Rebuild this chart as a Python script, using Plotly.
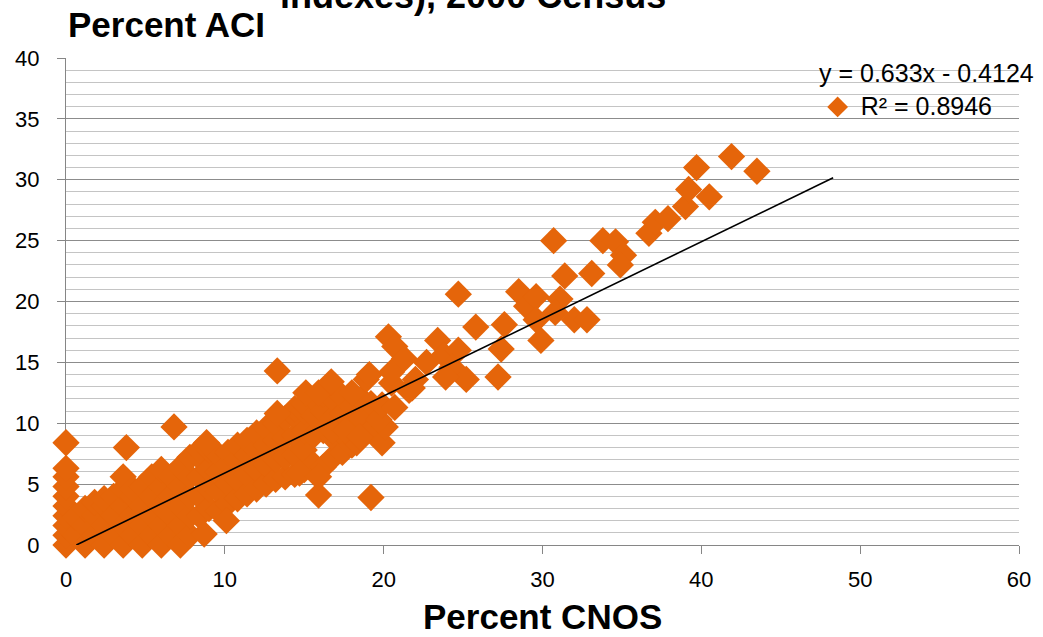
import plotly.graph_objects as go

# ---------------- data ----------------
# Percent CNOS (x) and Percent ACI (y) for the census units
cnos_pct = [
    # dense band near origin
    0.0, 0.0, 0.0, 0.0, 0.0, 0.0, 0.0, 0.0, 0.0, 0.0,
    0.6, 0.6,
    1.2, 1.2, 1.2,
    1.8, 1.8, 1.8,
    2.4, 2.4, 2.4, 2.4,
    3.0, 3.0, 3.0,
    3.6, 3.6, 3.6, 3.6, 3.6,
    4.2, 4.2, 4.2, 4.2,
    4.8, 4.8, 4.8, 4.8,
    5.4, 5.4, 5.4, 5.4,
    6.0, 6.0, 6.0, 6.0, 6.0,
    6.6, 6.6, 6.6, 6.6,
    7.2, 7.2, 7.2, 7.2, 7.2,
    7.8, 7.8, 7.8, 7.8, 7.8,
    8.4, 8.4, 8.4, 8.4, 8.4,
    9.0, 9.0, 9.0, 9.0,
    9.6, 9.6, 9.6, 9.6,
    10.2, 10.2, 10.2, 10.2,
    10.8, 10.8, 10.8, 10.8,
    11.4, 11.4, 11.4, 11.4,
    12.0, 12.0, 12.0, 12.0,
    12.6, 12.6, 12.6, 12.6,
    13.2, 13.2, 13.2, 13.2,
    13.8, 13.8, 13.8, 13.8,
    14.4, 14.4, 14.4, 14.4, 14.4,
    15.0, 15.0, 15.0, 15.0, 15.0,
    15.6, 15.6, 15.6, 15.6,
    16.2, 16.2, 16.2, 16.2,
    16.8, 16.8, 16.8, 16.8,
    17.4, 17.4, 17.4, 17.4,
    18.0, 18.0, 18.0,
    18.6, 18.6, 18.6,
    19.2, 19.2,
    # outliers / scattered units
    3.8, 6.8, 8.85, 8.7, 10.1, 13.3, 13.3, 15.9, 19.2, 14.7, 15.9,
    18.3, 19.9, 16.8, 17.6, 18.5, 20.1, 19.7, 19.9, 20.7,
    15.1, 15.9, 16.7, 18.0, 18.9, 19.1, 20.5, 20.5, 21.6, 22.0, 21.8,
    20.3, 20.7, 21.3, 22.7, 23.4, 23.8, 24.7, 24.3, 25.2, 23.9,
    24.7, 25.8, 27.6, 27.4, 27.2, 28.5, 29.0, 29.6, 29.6, 29.9,
    30.7, 31.1, 30.8, 31.4, 32.0, 32.8, 33.1, 33.8, 34.6, 35.1, 34.9,
    36.7, 37.1, 37.9, 39.0, 39.2, 40.5, 39.7, 41.9, 43.5,
]
aci_pct = [
    0.0, 0.8, 1.6, 2.4, 3.2, 4.0, 4.8, 5.6, 6.3, 8.4,
    0.8, 2.3,
    0.0, 1.6, 3.0,
    0.8, 2.4, 3.5,
    0.0, 1.6, 3.2, 3.8,
    0.8, 2.4, 4.0,
    0.0, 1.6, 3.2, 4.6, 5.6,
    0.8, 2.4, 4.0, 4.6,
    0.0, 1.6, 3.2, 4.8,
    0.8, 2.4, 4.0, 5.6,
    0.0, 1.6, 3.2, 4.8, 6.2,
    0.8, 2.4, 4.0, 5.6,
    0.0, 1.6, 3.2, 4.8, 6.4,
    0.8, 2.4, 4.0, 5.6, 7.2,
    2.4, 4.0, 5.6, 7.2, 7.8,
    3.0, 4.6, 6.2, 7.8,
    2.8, 4.4, 6.0, 7.4,
    3.4, 5.0, 6.6, 7.6,
    3.8, 5.4, 7.0, 8.2,
    4.2, 5.8, 7.4, 8.6,
    4.6, 6.2, 7.8, 9.2,
    5.0, 6.6, 8.2, 9.6,
    5.4, 7.0, 8.6, 10.0,
    5.6, 7.2, 8.8, 10.4,
    5.8, 7.4, 9.0, 10.6, 11.2,
    6.2, 7.8, 9.4, 11.0, 11.6,
    6.6, 9.0, 10.6, 12.0,
    6.4, 9.4, 11.0, 12.4,
    7.2, 8.8, 10.4, 12.0,
    7.6, 9.2, 10.8, 12.2,
    8.2, 9.8, 11.4,
    9.0, 10.4, 12.0,
    9.4, 11.6,
    8.0, 9.7, 8.4, 0.9, 2.0, 10.8, 14.3, 4.1, 3.9, 5.9, 5.6,
    8.4, 8.4, 9.4, 9.4, 8.9, 9.7, 10.3, 11.5, 11.3,
    12.5, 12.5, 13.4, 12.5, 13.6, 14.0, 13.3, 14.2, 12.7, 13.6, 12.9,
    17.1, 16.3, 15.3, 15.0, 16.8, 15.6, 16.0, 14.6, 13.6, 13.8,
    20.6, 17.9, 18.1, 16.1, 13.8, 20.8, 19.6, 20.4, 18.5, 16.8,
    25.0, 20.2, 19.1, 22.1, 18.5, 18.5, 22.3, 25.0, 24.9, 23.8, 23.0,
    25.6, 26.5, 26.8, 27.8, 29.2, 28.6, 31.0, 31.9, 30.7,
]

# Linear trendline reported in the chart
trend_slope = 0.633
trend_intercept = -0.4124
trend_r2 = 0.8946
trend_x = [0.65, 48.3]
trend_y = [trend_slope * v + trend_intercept for v in trend_x]

x_ticks = [0, 10, 20, 30, 40, 50, 60]
y_ticks = [0, 5, 10, 15, 20, 25, 30, 35, 40]

# ---------------- styling ----------------
ORANGE = "#E5650A"
FONT = "Liberation Sans, Arial, sans-serif"
W, H = 1043, 637
ML, MR, MT, MB = 66, 21, 58, 92
PW = W - ML - MR
PH = H - MT - MB


def px_x(p):
    return (p - ML) / PW


def px_y(p):
    return (H - MB - p) / PH


fig = go.Figure()

fig.add_trace(go.Scatter(
    x=cnos_pct, y=aci_pct, mode="markers", name=" ",
    marker=dict(symbol="diamond", size=21, color=ORANGE, line=dict(width=0)),
    cliponaxis=False, showlegend=True, hoverinfo="x+y",
))

fig.add_trace(go.Scatter(
    x=trend_x, y=trend_y, mode="lines", name="Linear trend",
    line=dict(color="black", width=1.6), showlegend=False, hoverinfo="skip",
))

axis_common = dict(
    showline=True, linecolor="#868686", linewidth=1,
    ticks="outside", ticklen=8, tickcolor="#868686", tickwidth=1,
    tickfont=dict(family=FONT, size=22, color="black"),
    zeroline=False, layer="below traces",
)

fig.update_xaxes(
    range=[0, 60], tickvals=x_ticks, showgrid=False,
    ticklabelstandoff=7, **axis_common,
)
fig.update_yaxes(
    range=[0, 40], tickvals=y_ticks, showgrid=True,
    gridcolor="#8c8c8c", gridwidth=1,
    minor=dict(dtick=1, showgrid=True, gridcolor="#c4c4c4", gridwidth=1, ticks=""),
    ticklabelstandoff=13, **axis_common,
)

fig.update_layout(
    width=W, height=H,
    margin=dict(l=ML, r=MR, t=MT, b=MB, pad=0),
    paper_bgcolor="white", plot_bgcolor="white",
    font=dict(family=FONT, color="black"),
    legend=dict(
        x=px_x(820), y=px_y(107), xanchor="left", yanchor="middle",
        bgcolor="rgba(0,0,0,0)", borderwidth=0,
        font=dict(family=FONT, size=16),
    ),
    annotations=[
        # chart title, cut off at the top edge as in the original
        dict(text="<b>indexes), 2000 Census</b>", xref="paper", yref="paper",
             x=px_x(474), y=px_y(-5), xanchor="center", yanchor="middle",
             showarrow=False, font=dict(family=FONT, size=36, color="black")),
        # y-axis title
        dict(text="<b>Percent ACI</b>", xref="paper", yref="paper",
             x=px_x(66), y=px_y(25), xanchor="left", yanchor="middle",
             showarrow=False, font=dict(family=FONT, size=35, color="black")),
        # x-axis title
        dict(text="<b>Percent CNOS</b>", xref="paper", yref="paper",
             x=px_x(544), y=px_y(616), xanchor="center", yanchor="middle",
             showarrow=False, font=dict(family=FONT, size=35, color="black")),
        # trendline label
        dict(text=f"y = {trend_slope}x - {abs(trend_intercept)}<br>R² = {trend_r2}",
             xref="paper", yref="paper", x=px_x(929), y=px_y(89),
             xanchor="center", yanchor="middle", align="center",
             showarrow=False, font=dict(family=FONT, size=25, color="black")),
    ],
)

fig.write_html("out.html")
